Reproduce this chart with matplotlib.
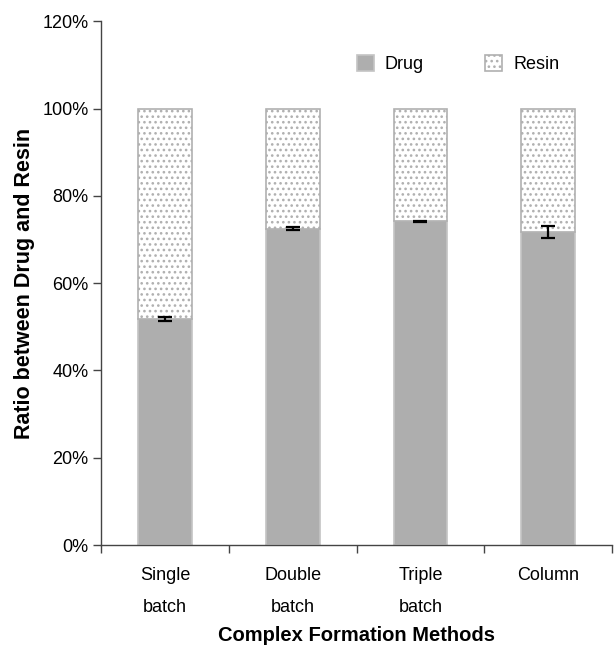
import matplotlib
matplotlib.use("Agg")
import matplotlib.pyplot as plt
import numpy as np
from matplotlib.ticker import FixedLocator, PercentFormatter

plt.rcParams['font.family'] = ['Liberation Sans', 'DejaVu Sans']
plt.rcParams['hatch.color'] = '#202020'
plt.rcParams['hatch.linewidth'] = 1.1

# Drug/resin composition of the complexes (percent)
methods = ["Single\nbatch", "Double\nbatch", "Triple\nbatch", "Column"]
drug = [51.8, 72.5, 74.2, 71.7]
drug_err = [0.4, 0.3, 0.15, 1.3]
resin = [100 - d for d in drug]

fig = plt.figure(figsize=(6.14, 6.45), dpi=100)
ax = fig.add_axes([0.1645, 0.155, 0.8325, 0.812])

x = np.arange(len(methods))
w = 0.42
ax.bar(x, drug, width=w, color='#aeaeae', edgecolor='#c4c4c4', linewidth=1.2,
       label='Drug', zorder=2)
ax.bar(x, resin, width=w, bottom=drug, color='white', edgecolor='#b0b0b0',
       linewidth=1.2, hatch='...', label='Resin', zorder=2)
ax.errorbar(x, drug, yerr=drug_err, fmt='none', ecolor='black', elinewidth=1.6,
            capsize=5, capthick=1.6, zorder=3)

ax.set_xlim(-0.5, len(methods) - 0.5)
ax.set_ylim(0, 120)
ax.yaxis.set_major_locator(FixedLocator([0, 20, 40, 60, 80, 100, 120]))
ax.yaxis.set_major_formatter(PercentFormatter(decimals=0))

ax.set_xticks(x)
ax.set_xticklabels(methods, linespacing=2.15)
ax.set_xticks(np.arange(len(methods) + 1) - 0.5, minor=True)
ax.tick_params(axis='x', which='major', length=0, pad=16, labelsize=13)
ax.tick_params(axis='x', which='minor', length=6, width=1, color='#444444',
               direction='out')
ax.tick_params(axis='y', length=6, width=1, color='#444444', labelsize=13,
               pad=3)

for side in ('top', 'right'):
    ax.spines[side].set_visible(False)
for side in ('left', 'bottom'):
    ax.spines[side].set_color('#444444')
    ax.spines[side].set_linewidth(1.0)

ax.set_ylabel('Ratio between Drug and Resin', fontsize=15.5,
              fontweight='bold', labelpad=5)
ax.set_xlabel('Complex Formation Methods', fontsize=14.5, fontweight='bold',
              labelpad=7)

leg = ax.legend(loc='center left', bbox_to_anchor=(0.50, 0.918), ncol=2,
                frameon=False, fontsize=13, handlelength=0.95,
                handleheight=0.95, columnspacing=3.4, handletextpad=0.6,
                borderpad=0, borderaxespad=0)

fig.savefig('out.png', dpi=100)
